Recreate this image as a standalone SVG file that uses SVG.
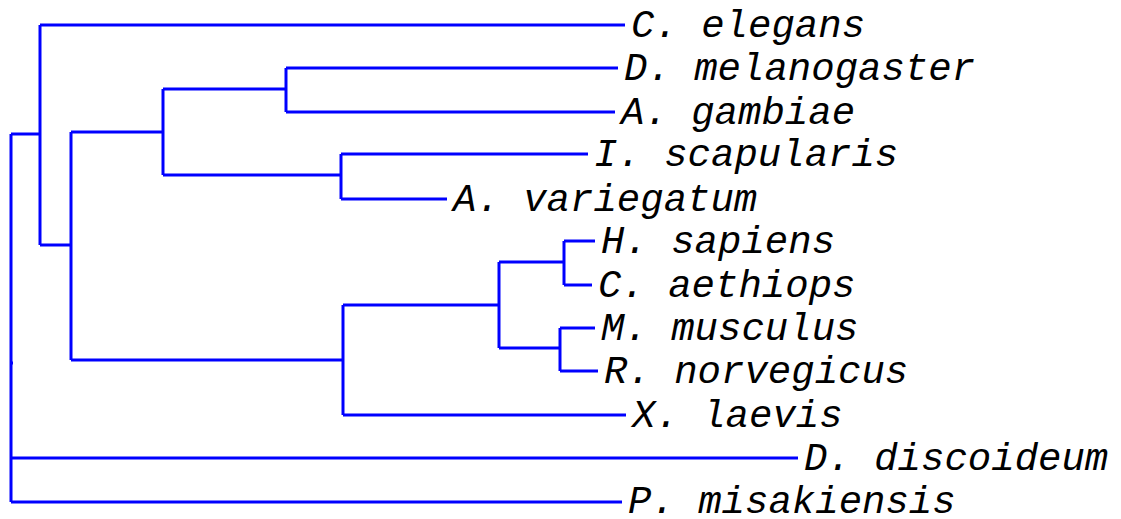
<svg xmlns="http://www.w3.org/2000/svg" width="1121" height="519" viewBox="0 0 1121 519">
  <style>
    .edge { fill: none; stroke: #0000ff; stroke-width: 3; stroke-linecap: butt; stroke-linejoin: miter; }
    .leaf text { font-family: "Courier New", "Liberation Mono", monospace; font-style: italic; font-size: 39px; fill: #000000; }
  </style>
  <rect width="1121" height="519" fill="#ffffff"/>

  <!-- branches, drawn as rectangular elbows -->
  <g id="connectors">
    <!-- root -->
    <path class="edge" d="M11,134 V502"/>
    <path class="edge" d="M11,363 H13"/>
    <path class="edge" d="M11,134 H40"/>
    <path class="edge" d="M11,458 H798"/>
    <path class="edge" d="M11,502 H622"/>
    <!-- bilateria -->
    <path class="edge" d="M40,25 V245"/>
    <path class="edge" d="M40,25 H625"/>
    <path class="edge" d="M40,245 H71"/>
    <path class="edge" d="M71,132 V360"/>
    <!-- arthropods -->
    <path class="edge" d="M71,132 H163"/>
    <path class="edge" d="M163,89 V175"/>
    <path class="edge" d="M163,89 H286"/>
    <path class="edge" d="M286,68 V112"/>
    <path class="edge" d="M286,68 H618"/>
    <path class="edge" d="M286,112 H615"/>
    <path class="edge" d="M163,175 H341"/>
    <path class="edge" d="M341,154 V199"/>
    <path class="edge" d="M341,154 H588"/>
    <path class="edge" d="M341,199 H447"/>
    <!-- vertebrates -->
    <path class="edge" d="M71,360 H343"/>
    <path class="edge" d="M343,305 V415"/>
    <path class="edge" d="M343,415 H626"/>
    <path class="edge" d="M343,305 H499"/>
    <path class="edge" d="M499,262 V348"/>
    <path class="edge" d="M499,262 H564"/>
    <path class="edge" d="M564,241 V285"/>
    <path class="edge" d="M564,241 H595"/>
    <path class="edge" d="M564,285 H592"/>
    <path class="edge" d="M499,348 H560"/>
    <path class="edge" d="M560,328 V371"/>
    <path class="edge" d="M560,328 H595"/>
    <path class="edge" d="M560,371 H598"/>
  </g>

  <!-- leaf labels -->
  <g id="c-elegans" class="leaf"><text x="631" y="37">C. elegans</text></g>
  <g id="d-melanogaster" class="leaf"><text x="624" y="80">D. melanogaster</text></g>
  <g id="a-gambiae" class="leaf"><text x="621" y="124">A. gambiae</text></g>
  <g id="i-scapularis" class="leaf"><text x="594" y="166">I. scapularis</text></g>
  <g id="a-variegatum" class="leaf"><text x="453" y="211">A. variegatum</text></g>
  <g id="h-sapiens" class="leaf"><text x="601" y="253">H. sapiens</text></g>
  <g id="c-aethiops" class="leaf"><text x="598" y="297">C. aethiops</text></g>
  <g id="m-musculus" class="leaf"><text x="601" y="340">M. musculus</text></g>
  <g id="r-norvegicus" class="leaf"><text x="604" y="383">R. norvegicus</text></g>
  <g id="x-laevis" class="leaf"><text x="632" y="427">X. laevis</text></g>
  <g id="d-discoideum" class="leaf"><text x="804" y="470">D. discoideum</text></g>
  <g id="p-misakiensis" class="leaf"><text x="628" y="513">P. misakiensis</text></g>
</svg>
